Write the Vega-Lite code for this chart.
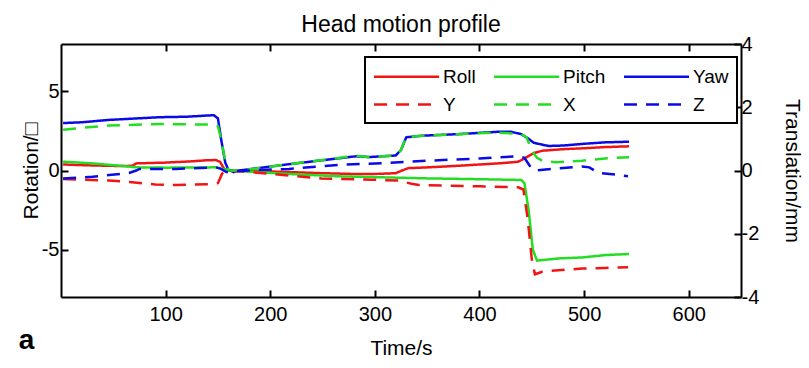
{
  "$schema": "https://vega.github.io/schema/vega-lite/v6.json",
  "width": 680,
  "height": 253,
  "autosize": {"type": "none"},
  "padding": {"left": 61, "top": 44, "right": 68, "bottom": 71},
  "background": "white",
  "title": {"text": "Head motion profile", "fontSize": 23, "font": "Liberation Sans", "fontWeight": "normal", "anchor": "middle", "offset": -3, "color": "black"},
  "config": {
    "view": {"stroke": null},
    "font": "Liberation Sans",
    "axis": {"domainColor": "black", "domainWidth": 2, "tickColor": "black", "tickWidth": 2, "tickSize": -7, "labelColor": "black", "titleColor": "black", "labelFontSize": 20, "titleFontSize": 21, "titleFontWeight": "normal", "grid": false, "labelFont": "Liberation Sans", "titleFont": "Liberation Sans", "labelExpr": "replace(datum.label, '\u2212', '-')"},
    "legend": {"strokeWidth": 2}
  },
  "datasets": {
    "rot": [
      {"t": 2, "s": "Roll", "v": 0.38}, {"t": 30, "s": "Roll", "v": 0.32}, {"t": 60, "s": "Roll", "v": 0.28}, {"t": 68, "s": "Roll", "v": 0.3}, {"t": 72, "s": "Roll", "v": 0.45}, {"t": 100, "s": "Roll", "v": 0.5}, {"t": 125, "s": "Roll", "v": 0.58}, {"t": 140, "s": "Roll", "v": 0.65}, {"t": 148, "s": "Roll", "v": 0.66}, {"t": 152, "s": "Roll", "v": 0.55}, {"t": 156, "s": "Roll", "v": 0.1}, {"t": 160, "s": "Roll", "v": 0.0}, {"t": 170, "s": "Roll", "v": -0.02}, {"t": 200, "s": "Roll", "v": -0.06}, {"t": 218, "s": "Roll", "v": -0.1}, {"t": 250, "s": "Roll", "v": -0.17}, {"t": 280, "s": "Roll", "v": -0.22}, {"t": 300, "s": "Roll", "v": -0.22}, {"t": 320, "s": "Roll", "v": -0.17}, {"t": 326, "s": "Roll", "v": 0.0}, {"t": 332, "s": "Roll", "v": 0.15}, {"t": 351, "s": "Roll", "v": 0.2}, {"t": 380, "s": "Roll", "v": 0.3}, {"t": 418, "s": "Roll", "v": 0.45}, {"t": 437, "s": "Roll", "v": 0.55}, {"t": 444, "s": "Roll", "v": 0.8}, {"t": 452, "s": "Roll", "v": 1.1}, {"t": 460, "s": "Roll", "v": 1.25}, {"t": 480, "s": "Roll", "v": 1.35}, {"t": 498, "s": "Roll", "v": 1.4}, {"t": 520, "s": "Roll", "v": 1.48}, {"t": 543, "s": "Roll", "v": 1.53},
      {"t": 2, "s": "Pitch", "v": 0.56}, {"t": 30, "s": "Pitch", "v": 0.45}, {"t": 60, "s": "Pitch", "v": 0.28}, {"t": 72, "s": "Pitch", "v": 0.2}, {"t": 100, "s": "Pitch", "v": 0.18}, {"t": 148, "s": "Pitch", "v": 0.2}, {"t": 155, "s": "Pitch", "v": 0.1}, {"t": 160, "s": "Pitch", "v": 0.0}, {"t": 175, "s": "Pitch", "v": -0.05}, {"t": 200, "s": "Pitch", "v": -0.15}, {"t": 218, "s": "Pitch", "v": -0.22}, {"t": 266, "s": "Pitch", "v": -0.37}, {"t": 300, "s": "Pitch", "v": -0.42}, {"t": 351, "s": "Pitch", "v": -0.5}, {"t": 400, "s": "Pitch", "v": -0.55}, {"t": 440, "s": "Pitch", "v": -0.6}, {"t": 443, "s": "Pitch", "v": -0.8}, {"t": 447, "s": "Pitch", "v": -2.5}, {"t": 451, "s": "Pitch", "v": -5.0}, {"t": 455, "s": "Pitch", "v": -5.7}, {"t": 476, "s": "Pitch", "v": -5.56}, {"t": 498, "s": "Pitch", "v": -5.5}, {"t": 520, "s": "Pitch", "v": -5.35}, {"t": 543, "s": "Pitch", "v": -5.28},
      {"t": 2, "s": "Yaw", "v": 3.0}, {"t": 20, "s": "Yaw", "v": 3.05}, {"t": 46, "s": "Yaw", "v": 3.2}, {"t": 94, "s": "Yaw", "v": 3.37}, {"t": 120, "s": "Yaw", "v": 3.4}, {"t": 146, "s": "Yaw", "v": 3.5}, {"t": 150, "s": "Yaw", "v": 3.3}, {"t": 153, "s": "Yaw", "v": 2.0}, {"t": 157, "s": "Yaw", "v": 0.5}, {"t": 160, "s": "Yaw", "v": 0.05}, {"t": 165, "s": "Yaw", "v": -0.1}, {"t": 170, "s": "Yaw", "v": 0.0}, {"t": 200, "s": "Yaw", "v": 0.25}, {"t": 218, "s": "Yaw", "v": 0.4}, {"t": 250, "s": "Yaw", "v": 0.65}, {"t": 282, "s": "Yaw", "v": 0.9}, {"t": 295, "s": "Yaw", "v": 0.85}, {"t": 320, "s": "Yaw", "v": 0.95}, {"t": 325, "s": "Yaw", "v": 1.3}, {"t": 330, "s": "Yaw", "v": 2.1}, {"t": 345, "s": "Yaw", "v": 2.2}, {"t": 380, "s": "Yaw", "v": 2.3}, {"t": 418, "s": "Yaw", "v": 2.45}, {"t": 430, "s": "Yaw", "v": 2.45}, {"t": 440, "s": "Yaw", "v": 2.3}, {"t": 447, "s": "Yaw", "v": 2.0}, {"t": 452, "s": "Yaw", "v": 1.75}, {"t": 466, "s": "Yaw", "v": 1.55}, {"t": 480, "s": "Yaw", "v": 1.58}, {"t": 498, "s": "Yaw", "v": 1.68}, {"t": 520, "s": "Yaw", "v": 1.78}, {"t": 543, "s": "Yaw", "v": 1.82}
    ],
    "trans": [
      {"t": 2, "s": "Y", "v": -0.27}, {"t": 46, "s": "Y", "v": -0.32}, {"t": 68, "s": "Y", "v": -0.37}, {"t": 90, "s": "Y", "v": -0.44}, {"t": 110, "s": "Y", "v": -0.46}, {"t": 144, "s": "Y", "v": -0.43}, {"t": 150, "s": "Y", "v": -0.4}, {"t": 154, "s": "Y", "v": -0.1}, {"t": 158, "s": "Y", "v": 0.0}, {"t": 170, "s": "Y", "v": -0.02}, {"t": 202, "s": "Y", "v": -0.11}, {"t": 249, "s": "Y", "v": -0.25}, {"t": 297, "s": "Y", "v": -0.29}, {"t": 323, "s": "Y", "v": -0.32}, {"t": 335, "s": "Y", "v": -0.42}, {"t": 342, "s": "Y", "v": -0.46}, {"t": 400, "s": "Y", "v": -0.5}, {"t": 437, "s": "Y", "v": -0.53}, {"t": 442, "s": "Y", "v": -0.6}, {"t": 446, "s": "Y", "v": -1.5}, {"t": 450, "s": "Y", "v": -2.8}, {"t": 453, "s": "Y", "v": -3.28}, {"t": 460, "s": "Y", "v": -3.2}, {"t": 469, "s": "Y", "v": -3.17}, {"t": 498, "s": "Y", "v": -3.1}, {"t": 520, "s": "Y", "v": -3.08}, {"t": 542, "s": "Y", "v": -3.06},
      {"t": 2, "s": "X", "v": 1.29}, {"t": 20, "s": "X", "v": 1.35}, {"t": 46, "s": "X", "v": 1.42}, {"t": 94, "s": "X", "v": 1.47}, {"t": 146, "s": "X", "v": 1.45}, {"t": 150, "s": "X", "v": 1.4}, {"t": 153, "s": "X", "v": 1.0}, {"t": 157, "s": "X", "v": 0.3}, {"t": 160, "s": "X", "v": 0.0}, {"t": 170, "s": "X", "v": 0.0}, {"t": 200, "s": "X", "v": 0.12}, {"t": 218, "s": "X", "v": 0.2}, {"t": 250, "s": "X", "v": 0.33}, {"t": 282, "s": "X", "v": 0.47}, {"t": 295, "s": "X", "v": 0.42}, {"t": 320, "s": "X", "v": 0.48}, {"t": 325, "s": "X", "v": 0.65}, {"t": 330, "s": "X", "v": 1.05}, {"t": 345, "s": "X", "v": 1.1}, {"t": 380, "s": "X", "v": 1.15}, {"t": 418, "s": "X", "v": 1.2}, {"t": 440, "s": "X", "v": 1.15}, {"t": 445, "s": "X", "v": 1.05}, {"t": 450, "s": "X", "v": 0.63}, {"t": 455, "s": "X", "v": 0.4}, {"t": 460, "s": "X", "v": 0.31}, {"t": 473, "s": "X", "v": 0.26}, {"t": 498, "s": "X", "v": 0.31}, {"t": 520, "s": "X", "v": 0.38}, {"t": 543, "s": "X", "v": 0.42},
      {"t": 2, "s": "Z", "v": -0.25}, {"t": 30, "s": "Z", "v": -0.2}, {"t": 46, "s": "Z", "v": -0.14}, {"t": 65, "s": "Z", "v": -0.08}, {"t": 72, "s": "Z", "v": 0.0}, {"t": 75, "s": "Z", "v": 0.05}, {"t": 110, "s": "Z", "v": 0.05}, {"t": 148, "s": "Z", "v": 0.1}, {"t": 153, "s": "Z", "v": 0.05}, {"t": 158, "s": "Z", "v": -0.05}, {"t": 165, "s": "Z", "v": -0.03}, {"t": 180, "s": "Z", "v": 0.0}, {"t": 218, "s": "Z", "v": 0.05}, {"t": 266, "s": "Z", "v": 0.18}, {"t": 313, "s": "Z", "v": 0.24}, {"t": 351, "s": "Z", "v": 0.31}, {"t": 400, "s": "Z", "v": 0.38}, {"t": 437, "s": "Z", "v": 0.45}, {"t": 443, "s": "Z", "v": 0.4}, {"t": 448, "s": "Z", "v": 0.15}, {"t": 452, "s": "Z", "v": 0.0}, {"t": 469, "s": "Z", "v": 0.05}, {"t": 498, "s": "Z", "v": 0.13}, {"t": 505, "s": "Z", "v": 0.1}, {"t": 514, "s": "Z", "v": -0.08}, {"t": 530, "s": "Z", "v": -0.13}, {"t": 542, "s": "Z", "v": -0.18}
    ]
  },
  "layer": [
    {
      "data": {"name": "rot"},
      "mark": {"type": "line", "strokeWidth": 2.5},
      "encoding": {
        "x": {"field": "t", "type": "quantitative", "scale": {"domain": [0, 650], "nice": false, "zero": false}, "axis": {"orient": "bottom", "values": [100, 200, 300, 400, 500, 600], "title": "Time/s", "labelPadding": 14, "titlePadding": 13}},
        "y": {"field": "v", "type": "quantitative", "scale": {"domain": [-8, 8], "nice": false, "zero": false}, "axis": {"orient": "left", "values": [-5, 0, 5], "title": "Rotation/□", "labelPadding": 9, "titlePadding": 0}},
        "color": {"field": "s", "type": "nominal", "scale": {"domain": ["Roll", "Pitch", "Yaw", "Y", "X", "Z"], "range": ["#f01414", "#22dd22", "#0a0ae6", "#f01414", "#22dd22", "#0a0ae6"]}, "legend": {"title": null, "orient": "none", "direction": "horizontal", "legendX": 304, "legendY": 13, "columns": 3, "symbolType": "M-3.25,0L3.25,0", "symbolSize": 400, "symbolOffset": 22, "symbolStrokeWidth": 2.5, "labelFontSize": 19, "labelColor": "black", "labelOffset": 25, "columnPadding": 13, "rowPadding": 6, "padding": 8, "strokeColor": "black", "fillColor": "white"}},
        "strokeDash": {"field": "s", "type": "nominal", "scale": {"domain": ["Roll", "Pitch", "Yaw", "Y", "X", "Z"], "range": [[1, 0], [1, 0], [1, 0], [13, 9], [13, 9], [13, 9]]}, "legend": {"title": null, "orient": "none", "direction": "horizontal", "legendX": 304, "legendY": 13, "columns": 3, "symbolType": "M-3.25,0L3.25,0", "symbolSize": 400, "symbolOffset": 22, "symbolStrokeWidth": 2.5, "labelFontSize": 19, "labelColor": "black", "labelOffset": 25, "columnPadding": 13, "rowPadding": 6, "padding": 8, "strokeColor": "black", "fillColor": "white"}}
      }
    },
    {
      "data": {"name": "trans"},
      "mark": {"type": "line", "strokeWidth": 2.5},
      "encoding": {
        "x": {"field": "t", "type": "quantitative", "scale": {"domain": [0, 650], "nice": false, "zero": false}, "axis": {"orient": "top", "values": [100, 200, 300, 400, 500, 600], "labels": false, "title": null}},
        "y": {"field": "v", "type": "quantitative", "scale": {"domain": [-4, 4], "nice": false, "zero": false}, "axis": {"orient": "right", "values": [-4, -2, 0, 2, 4], "title": "Translation/mm", "labelPadding": 7, "titlePadding": 23}},
        "color": {"field": "s", "type": "nominal", "scale": {"domain": ["Roll", "Pitch", "Yaw", "Y", "X", "Z"], "range": ["#f01414", "#22dd22", "#0a0ae6", "#f01414", "#22dd22", "#0a0ae6"]}},
        "strokeDash": {"field": "s", "type": "nominal", "scale": {"domain": ["Roll", "Pitch", "Yaw", "Y", "X", "Z"], "range": [[1, 0], [1, 0], [1, 0], [13, 9], [13, 9], [13, 9]]}}
      }
    },
    {
      "data": {"values": [{"label": "a"}]},
      "mark": {"type": "text", "fontSize": 28, "fontWeight": "bold", "font": "Liberation Sans", "color": "black", "baseline": "middle", "align": "center"},
      "encoding": {
        "text": {"field": "label"},
        "x": {"datum": -33, "type": "quantitative", "axis": null},
        "y": {"datum": -10.8, "type": "quantitative", "scale": {"domain": [-8, 8], "nice": false}, "axis": null}
      }
    }
  ],
  "resolve": {"scale": {"y": "independent"}, "axis": {"x": "independent", "y": "independent"}}
}
